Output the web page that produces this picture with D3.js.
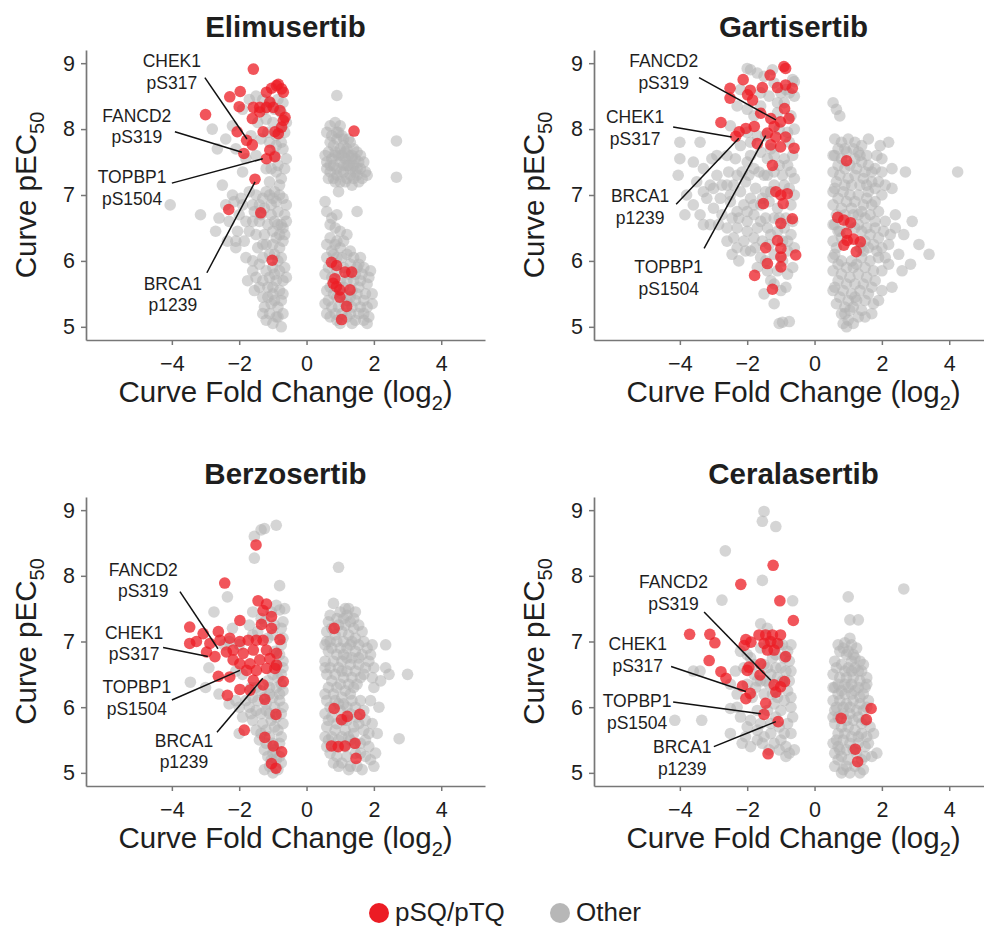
<!DOCTYPE html>
<html><head><meta charset="utf-8">
<script src="https://cdn.jsdelivr.net/npm/d3@7"></script>
<style>body{margin:0;background:#fff;} svg{display:block;font-family:"Liberation Sans",Arial,sans-serif;}</style>
</head><body>
<svg id="chart" width="984" height="928"></svg>
<script>
// ---------------- DATA ----------------
const drugNames = ["Elimusertib", "Gartisertib", "Berzosertib", "Ceralasertib"];
const xTicks = [-4, -2, 0, 2, 4];
const yTicks = [5, 6, 7, 8, 9];
const legendLabels = ["pSQ/pTQ", "Other"];

// [log2 fold change, pEC50]
const elimusertibOther = [
[-2.8,8.0],[-2.65,7.7],[-2.4,7.85],[-2.2,8.05],[-1.9,8.3],[-1.7,8.45],[-1.5,8.5],[-1.3,8.45],[-1.1,8.4],[-0.85,8.45],[-0.7,8.4],[-1.45,8.1],[-1.2,8.15],[-1.0,8.1],[-0.8,8.0],[-0.65,7.95],[-1.65,7.9],[-1.35,7.85],[-1.1,7.8],[-0.9,7.75],[-0.7,7.7],[-2.1,7.7],[-1.8,7.55],[-1.5,7.6],[-0.85,7.45],[-0.6,7.55],[-1.9,7.35],[-1.2,7.4],
[-2.5,7.15],[-2.2,7.0],[-1.95,6.95],[-1.7,7.05],[-1.5,7.0],[-1.3,6.95],[-1.1,7.0],[-0.95,7.05],[-0.8,7.0],[-0.7,6.95],[-1.6,6.85],[-1.25,6.8],[-1.05,6.85],[-0.85,6.75],[-0.65,6.7],[-2.0,6.7],[-1.8,6.6],[-1.4,6.6],[-1.15,6.55],[-0.95,6.6],[-0.75,6.55],[-0.6,6.6],[-2.3,6.6],[-2.05,6.45],[-1.7,6.45],[-1.25,6.4],[-1.0,6.45],[-0.8,6.4],[-0.65,6.4],[-2.1,6.3],[-1.0,6.25],[-0.8,6.2],[-1.2,6.25],[-0.95,6.1],[-0.7,6.3],[-1.35,6.7],[-1.55,6.75],[-0.9,6.9],[-1.1,7.2],[-0.75,7.25],[-0.9,7.35],
[-1.8,6.05],[-1.6,6.0],[-1.4,5.95],[-1.2,5.85],[-1.0,5.9],[-0.8,5.85],[-0.65,5.9],[-1.5,5.75],[-1.3,5.7],[-1.1,5.75],[-0.9,5.7],[-0.7,5.7],[-1.55,5.55],[-1.0,5.5],[-0.8,5.55],[-1.25,5.3],[-1.05,5.35],[-0.85,5.3],[-1.3,5.2],[-1.1,5.2],[-0.9,5.15],[-1.0,5.05],[-0.75,5.0],[-1.15,5.45],[-0.7,5.2],[-0.75,5.4],[-1.45,6.2],[-0.85,6.0],
[-4.05,6.85],[-3.15,6.7],[-2.7,6.45],[-2.6,6.65],[-2.35,6.3],[-2.1,6.2],
[-0.75,8.25],[-0.95,8.3],[-1.25,8.3],[-0.6,8.1],[-0.9,7.9],[-1.15,7.95],[-0.75,7.8],[-0.95,7.6],[-0.65,7.4],[-1.05,7.4],[-0.8,7.15],[-1.0,6.95],[-0.6,6.85],[-0.85,6.55],[-1.05,6.7],[-0.7,6.5],[-0.9,6.35],[-1.1,6.1],[-0.75,6.05],[-1.3,6.05],[-0.6,5.75],[-0.95,5.8],[-1.15,5.6],[-0.7,5.5],[-1.3,5.45],[-0.95,5.4],[-1.4,5.6],[-1.6,5.85],[-1.75,5.7],[-1.2,7.05],[-1.4,6.85],[-1.6,6.6],[-1.9,6.85],[-2.15,6.9],[-2.4,6.85],[-1.3,6.25],[-1.5,6.4],[-1.85,6.3],[-1.0,5.6],[-0.85,5.15],[-1.2,5.1],
[0.6,7.95],[0.85,8.1],[0.9,8.51],[0.75,7.9],[0.95,7.95],[1.1,7.85],[0.8,7.75],[1.0,7.7],[1.2,7.7],[1.4,7.7],[0.65,7.65],[0.85,7.6],[1.05,7.6],[1.25,7.6],[1.45,7.55],[1.6,7.6],[0.6,7.5],[0.8,7.45],[1.0,7.5],[1.2,7.45],[1.4,7.45],[1.6,7.4],[1.75,7.35],[0.7,7.35],[0.9,7.3],[1.1,7.35],[1.3,7.3],[1.5,7.3],[0.85,7.2],[1.15,7.2],[1.35,7.15],[1.7,7.5],[0.95,7.05],[0.65,7.25],[1.8,7.3],[1.25,7.85],[1.0,8.05],[0.7,8.05],[1.5,7.65],
[0.7,7.8],[0.9,7.85],[1.1,7.75],[1.3,7.8],[0.75,7.55],[0.95,7.6],[1.15,7.55],[1.35,7.55],[1.55,7.5],[0.7,7.45],[0.9,7.4],[1.1,7.45],[1.3,7.4],[1.5,7.4],[1.65,7.25],[0.8,7.25],[1.0,7.2],[1.2,7.25],[1.4,7.25],[1.05,7.9],[0.9,7.95],[1.25,7.45],[1.45,7.35],[0.85,7.65],[1.0,7.35],[1.15,7.65],[1.35,7.6],[0.6,7.4],[0.55,7.6],[1.55,7.2],
[0.55,6.9],[0.6,6.75],[0.75,6.65],[0.85,6.5],[0.7,6.35],[0.9,6.3],[0.75,6.15],[1.0,6.2],[1.2,6.1],[1.4,6.05],[0.6,6.05],[0.8,5.95],[1.1,5.9],[1.3,5.95],[1.5,5.9],[1.7,5.9],[1.9,5.85],[0.55,5.8],[0.75,5.75],[1.2,5.7],[1.4,5.7],[1.6,5.7],[1.8,5.65],[0.6,5.55],[0.8,5.5],[1.05,5.5],[1.3,5.45],[1.5,5.5],[1.75,5.5],[1.95,5.5],[0.55,5.35],[0.75,5.3],[0.95,5.3],[1.15,5.35],[1.35,5.3],[1.6,5.3],[1.8,5.3],[0.7,5.15],[0.9,5.1],[1.2,5.15],[1.45,5.1],[1.7,5.1],[1.8,5.05],[1.0,6.45],[1.2,6.4],[0.9,6.05],[1.6,6.05],
[0.65,5.9],[0.9,5.85],[1.0,5.7],[0.7,5.6],[0.9,5.45],[1.1,5.6],[1.25,5.8],[1.45,5.8],[1.65,5.8],[1.85,5.75],[1.35,5.55],[1.55,5.6],[1.7,5.4],[1.45,5.4],[1.2,5.4],[0.65,5.4],[0.85,5.2],[1.05,5.2],[1.3,5.2],[1.55,5.2],[1.7,5.2],[1.0,5.05],[1.35,5.05],[0.6,5.2],[0.8,6.1],[1.05,6.05],[1.3,6.15],[0.6,6.25],[0.85,6.25],[1.1,6.3],[0.7,6.55],[0.9,6.7],[1.55,5.95],[1.95,5.35],[1.85,5.15],
[1.5,6.75],[2.67,7.82],[2.67,7.27]
];
const elimusertibPSQ = [
[-1.58,8.91],[-2.28,8.49],[-1.97,8.57],[-2.0,8.34],[-3.0,8.22],[-1.61,8.16],[-2.06,7.96],[-1.78,7.83],[-1.61,7.76],[-1.86,7.63],[-1.53,7.24],[-2.31,6.78],[-1.36,6.73],[-1.02,6.01],
[-1.19,8.56],[-0.89,8.66],[-0.74,8.61],[-0.84,8.68],[-0.69,8.56],[-1.04,8.62],
[-1.58,8.33],[-1.39,8.33],[-1.19,8.33],[-0.99,8.33],[-0.79,8.28],[-0.64,8.18],[-1.39,8.26],[-1.09,8.41],
[-1.29,7.96],[-0.94,7.96],[-0.74,8.03],[-0.84,7.93],[-0.69,8.13],
[-1.09,7.68],[-1.19,7.55],[-0.94,7.58],
[1.41,7.97],[0.74,5.98],[0.89,5.93],[1.14,5.83],[1.34,5.83],[0.79,5.66],[0.89,5.61],[0.99,5.56],[1.29,5.56],[0.99,5.45],[1.19,5.31],[1.04,5.11],[0.84,5.73]
];

const gartisertibOther = [
[-4.0,7.8],[-4.0,7.55],[-4.05,7.3],[-3.6,7.5],[-3.3,7.4],[-3.05,7.55],[-2.9,7.3],[-2.75,7.15],[-2.55,7.35],[-3.2,6.95],[-3.0,6.8],[-3.4,6.7],[-3.6,6.85],[-2.75,6.7],[-2.5,6.9],[-2.3,6.75],[-2.1,6.85],[-2.6,6.5],[-2.3,6.5],[-2.0,6.6],[-1.8,6.7],[-1.6,6.6],[-1.4,6.5],[-1.2,6.65],[-0.9,6.5],[-0.7,6.4],[-2.1,6.3],[-1.8,6.35],[-1.55,6.3],[-1.3,6.4],[-1.1,6.45],[-0.8,6.3],[-2.6,6.3],[-2.3,6.2],[-1.9,6.15],[-1.6,6.05],[-1.2,6.1],[-0.8,6.15],[-2.25,6.0],[-1.7,5.9],[-1.4,5.85],[-1.1,5.85],[-0.8,5.8],[-1.2,5.65],[-1.0,5.55],[-1.2,5.35],[-0.95,5.07],[-1.05,5.05],[-0.75,5.08],
[-2.0,8.92],[-1.9,8.9],[-1.7,8.85],[-1.5,8.8],[-1.2,8.7],[-0.65,8.75],[-1.0,8.55],[-1.35,8.5],[-1.6,8.35],[-1.8,8.2],[-2.0,8.3],[-2.3,8.35],[-0.9,8.4],[-0.6,8.5],[-1.1,8.25],[-0.7,8.2],[-2.5,8.05],[-2.2,7.75],[-1.9,7.8],[-1.6,7.65],[-1.4,7.55],[-1.2,7.6],[-0.9,7.55],[-0.65,7.6],[-2.0,7.5],[-1.8,7.4],[-1.5,7.3],[-1.2,7.35],[-0.95,7.3],[-0.7,7.35],[-2.3,7.3],[-2.05,7.2],[-1.75,7.1],[-1.45,7.05],[-1.2,7.15],[-0.75,7.1],[-2.5,7.0],[-2.2,7.05],[-1.9,6.95],[-1.6,6.85],[-1.35,6.9],[-1.1,6.8],[-0.7,6.85],[-0.85,6.65],[-2.0,7.95],[-0.8,7.95],[-3.1,7.15],[-1.3,7.7],[-0.6,8.72],
[-3.5,7.2],[-3.3,7.05],[-3.0,7.1],[-2.8,6.95],[-2.6,7.15],[-2.4,7.15],[-2.15,7.35],[-1.95,7.3],[-1.65,7.35],[-1.4,7.3],[-1.05,7.45],[-0.8,7.45],[-0.6,7.25],[-0.6,7.0],[-0.9,7.15],[-1.3,7.05],[-1.55,6.95],[-1.8,6.85],[-2.0,6.75],[-2.25,6.65],[-2.45,6.65],[-2.85,6.55],[-3.1,6.55],[-3.3,6.55],[-2.4,6.35],[-2.0,6.45],[-1.7,6.5],[-1.45,6.65],[-1.05,6.65],[-0.65,6.6],[-0.6,6.2],[-0.95,6.3],[-1.35,6.25],[-1.75,6.2],[-2.05,6.15],[-2.45,6.1],[-1.45,6.0],[-0.95,6.0],[-0.65,5.9],[-1.3,5.7],[-0.85,5.6],[-1.5,5.5],[-2.6,7.6],[-2.35,7.55],[-1.7,7.9],[-1.45,7.9],[-1.05,8.0],[-0.6,8.0],[-0.85,8.6],[-1.1,8.4],[-1.6,8.55],[-2.2,8.6],[-1.25,8.9],[-0.75,8.55],[-1.9,7.6],[-0.75,7.8],[-3.8,7.0],[-3.85,6.7],[-2.9,7.6],[-3.4,7.8],
[0.55,8.4],[0.65,8.3],[0.75,8.2],[0.6,7.85],[0.8,7.8],[1.0,7.85],[1.2,7.8],[1.4,7.75],[1.6,7.85],[1.95,7.75],[2.2,7.8],[0.6,7.6],[0.8,7.55],[1.2,7.55],[1.4,7.5],[1.6,7.45],[1.8,7.4],[2.0,7.35],[0.55,7.35],[0.75,7.3],[1.0,7.25],[1.2,7.3],[1.45,7.25],[1.7,7.2],[1.9,7.2],[2.1,7.15],[2.3,7.1],[2.7,7.35],[4.25,7.35],[0.6,7.1],[0.85,7.05],[1.05,7.0],[1.3,7.0],[1.55,6.95],[1.8,6.9],[0.55,6.85],[0.8,6.8],[1.1,6.8],[1.4,6.75],[1.65,6.7],[1.9,6.75],[2.4,6.7],[0.6,6.55],[1.3,6.55],[1.55,6.5],[1.8,6.5],[2.05,6.45],[2.25,6.4],[0.55,6.3],[1.5,6.3],[1.75,6.25],[2.0,6.2],[2.2,6.25],[2.65,6.4],[2.9,6.6],[3.1,6.25],[3.4,6.1],[0.6,6.1],[0.8,6.0],[1.1,6.0],[1.4,6.05],[1.65,6.0],[1.9,6.05],[2.2,5.95],[2.6,5.85],[2.85,5.95],[0.55,5.85],[0.8,5.8],[1.05,5.75],[1.3,5.8],[1.55,5.75],[1.8,5.7],[2.3,5.6],[0.6,5.6],[0.85,5.55],[1.1,5.5],[1.35,5.55],[1.6,5.5],[1.9,5.4],[0.65,5.35],[0.9,5.3],[1.15,5.3],[1.4,5.25],[1.7,5.2],[1.0,5.1],[0.95,5.0],[1.5,5.15],[1.2,5.45],[0.75,6.45],[1.0,6.55],[1.05,7.45],[0.9,7.7],[1.15,6.7],[1.6,7.05],[1.35,6.2],[1.15,5.9],[0.9,5.2],[1.3,7.65],
[0.7,7.7],[0.95,7.65],[1.15,7.7],[1.35,7.6],[1.55,7.6],[0.7,7.45],[0.9,7.4],[1.25,7.4],[1.5,7.35],[1.7,7.35],[0.65,7.2],[0.9,7.15],[1.1,7.15],[1.35,7.15],[1.55,7.15],[1.8,7.1],[2.0,7.0],[0.7,6.95],[0.95,6.9],[1.2,6.9],[1.45,6.85],[1.7,6.85],[0.65,6.7],[0.9,6.7],[1.3,6.7],[1.5,6.65],[1.8,6.6],[2.1,6.6],[0.7,6.45],[1.2,6.5],[1.4,6.45],[1.65,6.4],[1.9,6.35],[0.65,6.2],[0.8,6.35],[1.45,6.15],[1.6,6.2],[1.85,6.15],[2.1,6.05],[0.7,5.95],[0.95,5.9],[1.25,5.95],[1.5,5.9],[1.75,5.85],[2.0,5.85],[0.7,5.7],[0.95,5.65],[1.2,5.65],[1.45,5.65],[1.7,5.6],[2.0,5.55],[0.75,5.45],[1.0,5.4],[1.25,5.4],[1.5,5.4],[1.75,5.35],[0.8,5.2],[1.05,5.25],[1.3,5.15],[0.55,7.6],[0.55,7.05],[0.55,6.55],[0.55,6.05],[0.55,5.55],[2.5,6.1],[2.4,6.5],[2.0,7.55],[2.3,7.4],[1.85,7.6],[1.15,5.05],[0.85,5.05]
];
const gartisertibPSQ = [
[-0.91,8.95],[-0.86,8.92],[-1.32,8.82],[-2.12,8.75],[-2.51,8.62],[-2.51,8.47],[-1.91,8.59],[-1.99,8.52],[-1.84,8.44],[-1.55,8.63],[-1.10,8.63],[-0.86,8.67],[-0.66,8.62],[-0.89,8.31],[-0.76,8.16],[-1.6,8.24],[-1.30,8.16],[-1.01,8.11],[-1.2,8.04],[-2.78,8.1],[-2.24,7.96],[-2.04,8.01],[-1.79,8.04],[-2.34,7.89],[-1.4,7.94],[-1.15,7.88],[-0.86,7.88],[-1.7,7.78],[-1.3,7.76],[-1.01,7.73],[-0.61,7.71],[-1.25,7.45],[-1.15,7.05],[-1.0,7.0],[-0.81,7.02],[-0.93,6.87],[-1.52,6.87],[-0.66,6.64],[-1.0,6.57],[-1.1,6.31],[-1.0,6.19],[-1.45,6.2],[-0.56,6.09],[-1.0,6.06],[-1.4,5.96],[-1.0,5.91],[-1.78,5.78],[-1.25,5.57],
[0.95,7.52],[0.69,6.66],[0.87,6.62],[1.07,6.58],[0.95,6.42],[0.97,6.31],[1.16,6.33],[1.36,6.29],[1.24,6.14],[0.87,6.24]
];

const berzosertibOther = [
[-1.35,8.7],[-1.25,8.72],[-0.9,8.77],[-1.55,8.6],[-1.55,8.27],[-0.8,7.85],[-2.35,7.68],[-2.75,7.45],[-3.45,6.38],[-0.65,7.5],[-0.8,7.48],[-1.6,7.45],[-1.35,7.35],[-0.9,7.55],[-0.7,7.3],[-1.0,7.1],[-0.75,6.95],[-0.7,6.7],[-0.75,6.5],[-0.9,6.3],[-1.1,6.2],[-0.8,6.1],[-0.95,6.0],[-1.2,5.95],[-1.5,5.95],[-1.7,6.0],[-2.0,6.0],[-1.6,6.15],[-1.35,6.25],[-0.75,5.9],[-1.05,5.8],[-1.3,5.75],[-1.6,5.8],[-2.0,5.6],[-0.85,5.65],[-1.1,5.55],[-1.4,5.5],[-0.8,5.45],[-1.0,5.3],[-1.25,5.35],[-0.9,5.2],[-1.1,5.1],[-1.0,5.0],[-0.85,5.05],[-1.5,5.65],[-2.3,6.05],[-2.6,6.2],[-1.9,6.5],[-2.1,6.55],[-0.7,6.25],[-1.45,7.15],[-1.25,7.3],[-2.2,7.2],[-2.9,6.6],[-3.0,6.3],[-1.7,7.25],[-2.45,6.95],[-1.15,6.4],[-0.95,6.85],[-1.65,6.3],[-1.2,6.05],[-0.9,6.65],
[-1.05,7.45],[-0.75,7.2],[-0.95,7.25],[-0.7,7.05],[-0.8,6.8],[-0.7,6.6],[-0.85,6.45],[-1.0,6.5],[-0.75,6.35],[-1.1,6.3],[-0.8,6.2],[-1.0,6.15],[-1.25,6.15],[-1.45,6.1],[-0.7,6.0],[-1.1,5.9],[-1.35,5.9],[-0.9,5.85],[-0.7,5.75],[-0.95,5.7],[-1.2,5.65],[-1.35,5.6],[-0.75,5.55],[-1.0,5.45],[-1.2,5.45],[-0.95,5.35],[-1.15,5.25],[-0.8,5.25],[-1.05,5.2],[-0.75,5.15],[-1.25,5.05],[-1.65,5.9],[-1.8,6.1],[-2.1,6.1],[-1.5,6.3],[-1.9,5.85],[-2.0,6.95],[-1.6,7.1],[-2.3,7.0],[-1.15,7.05],
[0.95,8.13],[0.8,7.58],[1.25,7.5],[1.45,7.45],[0.65,7.3],[0.9,7.35],[1.1,7.35],[1.3,7.3],[1.55,7.25],[0.6,7.15],[0.85,7.1],[1.05,7.15],[1.25,7.1],[1.45,7.05],[1.7,7.0],[1.95,6.95],[2.35,6.95],[0.55,6.95],[0.75,6.9],[1.0,6.9],[1.2,6.9],[1.45,6.85],[1.65,6.8],[1.9,6.8],[0.55,6.7],[0.8,6.7],[1.05,6.7],[1.3,6.65],[1.55,6.65],[1.75,6.6],[2.0,6.6],[2.35,6.6],[2.45,6.5],[3.0,6.5],[0.6,6.5],[0.85,6.5],[1.1,6.45],[1.35,6.45],[1.6,6.45],[0.65,6.3],[0.9,6.3],[1.15,6.25],[1.4,6.3],[2.2,6.4],[0.6,6.1],[0.85,6.1],[1.1,6.05],[1.35,6.1],[1.6,6.1],[0.55,5.9],[0.75,5.85],[1.0,5.95],[1.3,5.9],[1.5,5.85],[1.75,5.8],[1.95,5.75],[0.6,5.7],[0.85,5.65],[1.15,5.65],[1.4,5.7],[1.7,5.65],[2.1,5.6],[2.75,5.52],[0.65,5.5],[0.95,5.5],[1.25,5.55],[1.6,5.45],[1.85,5.4],[0.7,5.3],[0.9,5.25],[1.2,5.25],[1.45,5.3],[1.75,5.25],[2.0,5.1],[0.95,5.1],[1.25,5.05],[1.5,5.1],[1.05,6.55],[1.2,6.75],[0.9,7.0],[1.1,5.8],[1.35,7.0],[1.65,7.15],[2.0,6.3],
[0.7,7.4],[1.0,7.45],[1.2,7.4],[1.4,7.35],[0.75,7.2],[0.95,7.25],[1.15,7.25],[1.4,7.2],[0.7,7.0],[1.1,7.0],[1.3,6.95],[1.55,6.95],[1.8,6.9],[0.65,6.85],[0.9,6.8],[1.1,6.8],[1.35,6.75],[1.55,6.75],[1.85,6.7],[0.7,6.6],[0.95,6.6],[1.2,6.55],[1.45,6.55],[1.7,6.5],[1.95,6.45],[0.75,6.4],[1.0,6.35],[1.25,6.35],[1.5,6.35],[0.55,6.2],[0.8,6.2],[1.05,6.15],[1.3,6.2],[0.7,6.0],[0.95,6.05],[1.2,6.0],[1.45,6.0],[1.7,5.95],[0.65,5.8],[0.9,5.75],[1.2,5.8],[1.4,5.6],[1.55,5.75],[1.85,5.6],[0.75,5.55],[1.05,5.55],[1.3,5.5],[1.75,5.5],[0.6,5.4],[0.85,5.4],[1.15,5.4],[1.4,5.45],[1.6,5.3],[0.8,5.15],[1.05,5.15],[1.3,5.1],[0.55,6.6],[0.6,7.0],[0.55,5.55],[1.65,5.05],[1.9,5.2],[2.05,5.3],[1.9,6.1],[2.15,6.0],[1.15,7.5]
];
const berzosertibPSQ = [
[-1.5,8.47],[-2.43,7.89],[-1.44,7.62],[-1.19,7.57],[-1.29,7.47],[-1.04,7.38],[-1.98,7.32],[-3.47,7.22],[-1.34,7.26],[-3.07,7.12],[-2.62,7.15],[-1.04,7.2],[-3.47,6.97],[-3.27,7.0],[-2.87,6.97],[-2.57,7.02],[-2.28,7.05],[-1.98,7.0],[-1.73,7.02],[-1.49,7.02],[-1.29,7.02],[-0.79,7.03],[-2.72,6.77],[-2.38,6.84],[-2.18,6.87],[-1.88,6.82],[-1.58,6.87],[-1.19,6.87],[-0.89,6.82],[-1.98,6.66],[-1.68,6.66],[-1.39,6.72],[-1.09,6.74],[-0.89,6.64],[-1.78,6.56],[-1.49,6.56],[-1.19,6.59],[-0.94,6.59],[-2.62,6.47],[-2.28,6.46],[-1.58,6.41],[-0.69,6.39],[-1.29,6.34],[-1.98,6.27],[-1.68,6.26],[-2.35,6.18],[-1.24,6.12],[-0.91,5.89],[-1.85,5.65],[-1.24,5.54],[-0.99,5.41],[-0.74,5.32],[-1.04,5.14],[-0.91,5.07],[-2.18,6.72],[-2.97,6.84],
[0.82,7.2],[0.82,5.98],[1.04,5.81],[1.21,5.86],[1.58,5.89],[0.74,5.41],[0.94,5.4],[1.14,5.41],[1.44,5.45],[1.47,5.22]
];

const ceralasertibOther = [
[-1.5,8.98],[-1.55,8.83],[-1.15,8.75],[-2.65,8.38],[-1.55,7.93],[-2.75,7.63],[-0.65,7.62],[-1.6,7.27],[-1.4,7.2],[-1.9,6.75],[-2.1,6.6],[-2.35,6.55],[-1.8,6.5],[-2.5,6.35],[-3.6,6.55],[-3.4,6.55],[-2.3,6.2],[-2.0,6.35],[-1.75,6.3],[-0.7,6.55],[-0.75,6.7],[-0.8,6.85],[-1.0,6.6],[-1.3,6.5],[-1.1,6.45],[-0.75,6.4],[-0.7,6.15],[-0.9,6.1],[-1.2,6.05],[-1.4,5.95],[-1.7,5.95],[-2.5,5.98],[-2.2,5.85],[-1.9,5.8],[-1.6,5.75],[-1.3,5.75],[-1.05,5.7],[-0.8,5.75],[-0.7,5.6],[-1.0,5.5],[-1.2,5.45],[-1.5,5.55],[-1.7,5.5],[-2.5,5.6],[-2.05,5.55],[-1.9,5.4],[-1.55,5.45],[-0.85,5.4],[-0.6,5.35],[-0.75,5.3],[-4.15,5.8],[-3.35,5.8],[-1.35,7.0],[-1.15,6.8],[-1.5,6.65],[-0.95,6.95],[-1.7,6.4],[-2.2,6.85],[-1.25,6.2],
[-0.7,6.95],[-0.9,6.75],[-1.05,6.95],[-1.25,6.75],[-1.4,6.6],[-0.85,6.55],[-1.15,6.6],[-1.35,6.35],[-0.95,6.4],[-1.5,6.2],[-0.8,6.25],[-1.1,6.15],[-0.7,6.0],[-1.0,5.95],[-1.6,6.4],[-1.85,6.15],[-2.3,6.0],[-1.3,5.6],[-0.9,5.6],[-1.7,5.65],[-2.0,5.7],[-0.65,5.85],[-1.15,5.85],[-1.8,6.65],[-2.0,6.8],[-1.6,6.9],[-1.45,6.4],[-1.05,5.35],[-0.85,5.25],[-2.15,5.45],[-1.35,5.35],
[1.0,7.68],[1.05,7.33],[1.3,7.33],[2.65,7.8],[0.9,6.98],[1.1,6.95],[0.75,6.85],[0.95,6.8],[1.15,6.8],[1.35,6.7],[0.6,6.7],[0.8,6.65],[1.0,6.6],[1.2,6.6],[1.4,6.55],[0.55,6.5],[0.75,6.45],[0.95,6.45],[1.15,6.45],[1.35,6.4],[1.55,6.35],[0.6,6.3],[0.8,6.25],[1.0,6.3],[1.2,6.25],[1.45,6.2],[0.55,6.1],[0.75,6.1],[0.95,6.05],[1.15,6.1],[1.35,6.05],[1.55,6.0],[0.6,5.95],[0.85,5.9],[1.05,5.9],[1.3,5.85],[1.5,5.8],[1.75,5.6],[0.6,5.75],[0.8,5.7],[1.0,5.7],[1.2,5.65],[1.4,5.6],[0.65,5.5],[0.85,5.5],[1.05,5.45],[1.3,5.45],[1.5,5.4],[1.85,5.3],[0.6,5.3],[0.8,5.25],[1.0,5.2],[1.4,5.2],[0.6,5.1],[0.85,5.05],[1.05,5.0],[1.35,5.0],[1.15,5.35],[0.7,5.4],[1.25,5.95],[0.9,6.2],[1.1,6.7],[0.85,6.9],
[0.7,6.95],[1.0,6.85],[1.2,6.75],[0.65,6.6],[0.9,6.55],[1.1,6.55],[1.3,6.55],[0.7,6.35],[0.9,6.35],[1.1,6.35],[1.3,6.3],[1.5,6.3],[0.7,6.2],[1.1,6.2],[1.35,6.15],[0.65,6.0],[0.85,6.0],[1.05,6.0],[1.45,5.95],[1.6,6.1],[0.7,5.85],[0.95,5.8],[1.15,5.8],[1.4,5.75],[0.7,5.6],[0.9,5.6],[1.1,5.55],[1.3,5.55],[1.55,5.55],[0.75,5.35],[0.95,5.35],[1.25,5.3],[1.5,5.25],[0.7,5.2],[0.95,5.1],[1.2,5.1],[1.45,5.05],[0.55,5.85],[0.55,6.3],[0.55,5.45],[1.6,5.45],[1.7,5.25],[1.55,6.45],[1.25,6.9],[1.05,7.05],[1.65,5.7],[1.45,6.65],[0.8,5.0]
];
const ceralasertibPSQ = [
[-1.23,8.16],[-2.19,7.87],[-1.03,7.62],[-0.63,7.32],[-3.71,7.11],[-3.11,7.11],[-2.96,6.98],[-2.04,7.03],[-1.89,6.99],[-2.09,6.94],[-1.65,7.1],[-1.45,7.1],[-1.25,7.1],[-1.01,7.1],[-1.5,6.97],[-1.3,7.0],[-1.1,6.97],[-1.4,6.87],[-1.2,6.87],[-3.13,6.71],[-1.6,6.66],[-2.0,6.56],[-1.95,6.61],[-0.86,6.77],[-2.78,6.54],[-2.63,6.44],[-1.62,6.49],[-0.89,6.39],[-1.2,6.34],[-1.01,6.31],[-1.15,6.23],[-2.14,6.32],[-1.91,6.21],[-2.04,6.13],[-1.45,6.06],[-1.5,5.89],[-1.08,5.78],[-1.38,5.29],
[0.79,5.83],[1.68,5.98],[1.54,5.81],[1.21,5.36],[1.28,5.17]
];

// annotation text, label anchor and leader line (data units)
const elimusertibNotes = [
 {gene:"CHEK1", site:"pS317", tx:-4.0, ty:8.94, x1:-3.02, y1:8.78, x2:-1.77, y2:7.85},
 {gene:"FANCD2", site:"pS319", tx:-5.04, ty:8.11, x1:-3.91, y1:7.96, x2:-1.92, y2:7.65},
 {gene:"TOPBP1", site:"pS1504", tx:-5.18, ty:7.18, x1:-4.0, y1:7.18, x2:-1.30, y2:7.55},
 {gene:"BRCA1", site:"p1239", tx:-3.97, ty:5.56, x1:-2.96, y1:5.82, x2:-1.53, y2:7.2}
];
const gartisertibNotes = [
 {gene:"FANCD2", site:"pS319", tx:-4.48, ty:8.94, x1:-3.43, y1:8.78, x2:-1.15, y2:8.14},
 {gene:"CHEK1", site:"pS317", tx:-5.33, ty:8.09, x1:-4.2, y1:8.03, x2:-2.46, y2:7.88},
 {gene:"BRCA1", site:"p1239", tx:-5.18, ty:6.89, x1:-4.11, y1:6.86, x2:-2.25, y2:7.86},
 {gene:"TOPBP1", site:"pS1504", tx:-4.33, ty:5.81, x1:-3.28, y1:6.19, x2:-1.45, y2:7.9}
];
const berzosertibNotes = [
 {gene:"FANCD2", site:"pS319", tx:-4.85, ty:8.0, x1:-3.76, y1:7.76, x2:-2.63, y2:6.89},
 {gene:"CHEK1", site:"pS317", tx:-5.12, ty:7.04, x1:-4.26, y1:6.91, x2:-2.93, y2:6.77},
 {gene:"TOPBP1", site:"pS1504", tx:-5.04, ty:6.21, x1:-4.0, y1:6.11, x2:-1.98, y2:6.56},
 {gene:"BRCA1", site:"p1239", tx:-3.64, ty:5.40, x1:-2.66, y1:5.62, x2:-1.3, y2:6.44}
];
const ceralasertibNotes = [
 {gene:"FANCD2", site:"pS319", tx:-4.19, ty:7.81, x1:-3.28, y1:7.45, x2:-1.30, y2:6.41},
 {gene:"CHEK1", site:"pS317", tx:-5.25, ty:6.87, x1:-4.26, y1:6.62, x2:-2.04, y2:6.24},
 {gene:"TOPBP1", site:"pS1504", tx:-5.27, ty:6.0, x1:-4.2, y1:6.08, x2:-1.6, y2:5.9},
 {gene:"BRCA1", site:"p1239", tx:-3.93, ty:5.3, x1:-2.99, y1:5.4, x2:-1.15, y2:5.78}
];

const panelData = [
 {name: drugNames[0], other: elimusertibOther, psq: elimusertibPSQ, notes: elimusertibNotes},
 {name: drugNames[1], other: gartisertibOther, psq: gartisertibPSQ, notes: gartisertibNotes},
 {name: drugNames[2], other: berzosertibOther, psq: berzosertibPSQ, notes: berzosertibNotes},
 {name: drugNames[3], other: ceralasertibOther, psq: ceralasertibPSQ, notes: ceralasertibNotes}
];

// ---------------- LAYOUT ----------------
const svg = d3.select("#chart");
const RED = "#ec1c24", GRAY = "#b3b3b3", AXIS = "#777", TXT = "#1e1e1e";
const panelBoxes = [
 {left: 86, right: 485, top: 50, bottom: 340},
 {left: 594, right: 993, top: 50, bottom: 340},
 {left: 86, right: 485, top: 497, bottom: 786},
 {left: 594, right: 993, top: 497, bottom: 786}
];
const fmt = d => d < 0 ? "\u2212" + Math.abs(d) : String(d);

panelData.forEach((p, i) => {
  const b = panelBoxes[i];
  const x = d3.scaleLinear().domain([-6.55, 5.3]).range([b.left, b.right]);
  const y = d3.scaleLinear().domain([4.8, 9.2]).range([b.bottom, b.top]);
  const g = svg.append("g");

  // points
  g.append("g").selectAll("circle").data(p.other).join("circle")
    .attr("cx", d => x(d[0])).attr("cy", d => y(d[1])).attr("r", 5.8)
    .attr("fill", GRAY).attr("fill-opacity", 0.55);
  g.append("g").selectAll("circle").data(p.psq).join("circle")
    .attr("cx", d => x(d[0])).attr("cy", d => y(d[1])).attr("r", 5.8)
    .attr("fill", RED).attr("fill-opacity", 0.75);

  // axes
  const ya = g.append("g").attr("transform", `translate(${b.left},0)`)
    .call(d3.axisLeft(y).tickValues(yTicks).tickFormat(d3.format("d")).tickSize(5).tickSizeOuter(0).tickPadding(6));
  const xa = g.append("g").attr("transform", `translate(0,${b.bottom})`)
    .call(d3.axisBottom(x).tickValues(xTicks).tickFormat(fmt).tickSize(5).tickSizeOuter(0).tickPadding(11));
  [ya, xa].forEach(a => {
    a.select(".domain").attr("stroke", AXIS).attr("stroke-width", 1.7);
    a.selectAll(".tick line").attr("stroke", AXIS).attr("stroke-width", 1.5);
    a.selectAll(".tick text").attr("fill", TXT).attr("font-size", 21.5)
      .attr("font-family", "Liberation Sans, Arial, sans-serif");
  });

  // title
  g.append("text").attr("x", (b.left + b.right) / 2).attr("y", b.top - 13)
    .attr("text-anchor", "middle").attr("font-size", 29.5).attr("font-weight", "bold")
    .attr("fill", TXT).text(p.name);

  // y label
  const yl = g.append("text")
    .attr("transform", `translate(${b.left - 50},${(b.top + b.bottom) / 2}) rotate(-90)`)
    .attr("text-anchor", "middle").attr("font-size", 29.5).attr("fill", TXT);
  yl.append("tspan").text("Curve pEC");
  yl.append("tspan").attr("font-size", 20).attr("dy", 8).text("50");

  // x label
  const xl = g.append("text").attr("x", (b.left + b.right) / 2).attr("y", b.bottom + 62)
    .attr("text-anchor", "middle").attr("font-size", 29.5).attr("fill", TXT);
  xl.append("tspan").text("Curve Fold Change (log");
  xl.append("tspan").attr("font-size", 20).attr("dy", 8).text("2");
  xl.append("tspan").attr("dy", -8).text(")");

  // annotations
  const notes = g.append("g");
  notes.selectAll("line").data(p.notes).join("line")
    .attr("x1", d => x(d.x1)).attr("y1", d => y(d.y1))
    .attr("x2", d => x(d.x2)).attr("y2", d => y(d.y2))
    .attr("stroke", "#111").attr("stroke-width", 1.5);
  const t = notes.selectAll("text").data(p.notes).join("text")
    .attr("text-anchor", "middle").attr("font-size", 17.5).attr("fill", TXT)
    .attr("x", d => x(d.tx)).attr("y", d => y(d.ty));
  t.append("tspan").text(d => d.gene);
  t.append("tspan").attr("x", d => x(d.tx)).attr("dy", 21.5).text(d => d.site);
});

// legend
const leg = svg.append("g");
const legColors = [RED, GRAY];
const legX = [379, 560];
legendLabels.forEach((lab, i) => {
  leg.append("circle").attr("cx", legX[i]).attr("cy", 913).attr("r", 10)
    .attr("fill", legColors[i]).attr("fill-opacity", i === 0 ? 1 : 0.95);
  leg.append("text").attr("x", legX[i] + 16).attr("y", 921).attr("font-size", 26)
    .attr("fill", TXT).text(lab);
});
</script>
</body></html>
